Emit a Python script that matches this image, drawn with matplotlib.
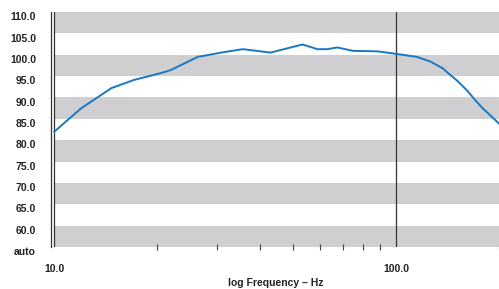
import matplotlib
matplotlib.use("Agg")
import matplotlib.pyplot as plt
import matplotlib.transforms as mtransforms

plt.rcParams['font.family'] = ['Liberation Sans', 'DejaVu Sans']

# curve (Hz, level)
freq = [10.0, 12.0, 14.7, 17.1, 20.5, 21.9, 26.3, 31.3, 35.6, 42.9, 53.2, 58.9,
        62.9, 67.3, 74.9, 88.0, 100.0, 115.0, 126.0, 137.0, 142.0, 151.0, 161.0,
        172.0, 179.0, 200.0]
level = [82.0, 87.5, 92.2, 94.1, 95.7, 96.4, 99.5, 100.6, 101.3, 100.5, 102.4, 101.3,
         101.3, 101.7, 100.9, 100.8, 100.2, 99.5, 98.4, 96.8, 95.7, 93.9, 91.7,
         89.0, 87.5, 83.9]

ytick_vals = [110, 105, 100, 95, 90, 85, 80, 75, 70, 65, 60, 55]
ytick_labels = ['110.0', '105.0', '100.0', '95.0', '90.0', '85.0', '80.0',
                '75.0', '70.0', '65.0', '60.0', 'auto']
bands = [(105, 110), (95, 100), (85, 90), (75, 80), (65, 70), (55, 60)]
xmajor = [10, 100]
xmajor_labels = ['10.0', '100.0']
xminor = [20, 30, 40, 50, 60, 70, 80, 90, 200]

text_col = '#222222'
band_col = '#cfcfd1'
line_col = '#1a78c2'

fig = plt.figure(figsize=(4.99, 2.89), dpi=100)
ax = fig.add_axes([50.5 / 499, 1 - 247 / 289, 448.5 / 499, 235 / 289])

for lo, hi in bands:
    ax.fill_between([10, 200], lo, hi, color=band_col, lw=0, zorder=0)

ax.plot(freq, level, color=line_col, lw=1.4, zorder=3)

ax.axvline(10, color='#333333', lw=0.9, zorder=2)
ax.axvline(100, color='#333333', lw=0.9, zorder=2)

ax.set_xscale('log')
ax.set_xlim(9.747, 200)
ax.set_ylim(55, 110)

ax.set_xticks(xmajor)
ax.set_xticklabels(xmajor_labels)
ax.set_xticks(xminor, minor=True)
ax.set_xticklabels([], minor=True)
ax.tick_params(axis='x', which='major', length=0, pad=12,
               labelsize=7.5, labelcolor=text_col)
ax.tick_params(axis='x', which='minor', direction='inout', length=5,
               width=0.8, color='#444444')

ax.set_yticks(ytick_vals)
ax.set_yticklabels(ytick_labels)
ax.tick_params(axis='y', length=0, pad=10.5, labelsize=7.5, labelcolor=text_col)

off = mtransforms.ScaledTranslation(0, -3 / 72, fig.dpi_scale_trans)
for lab in ax.get_yticklabels():
    lab.set_transform(lab.get_transform() + off)
    lab.set_fontweight('bold')
for lab in ax.get_xticklabels():
    lab.set_fontweight('bold')

for s in ['top', 'right', 'bottom']:
    ax.spines[s].set_visible(False)
ax.spines['left'].set_color('#333333')
ax.spines['left'].set_linewidth(0.9)

fig.text(276 / 499, 1 - 282.5 / 289, 'log Frequency – Hz', fontsize=7.5,
         fontweight='bold', color=text_col, ha='center', va='center')

fig.savefig('out.png', dpi=100)
